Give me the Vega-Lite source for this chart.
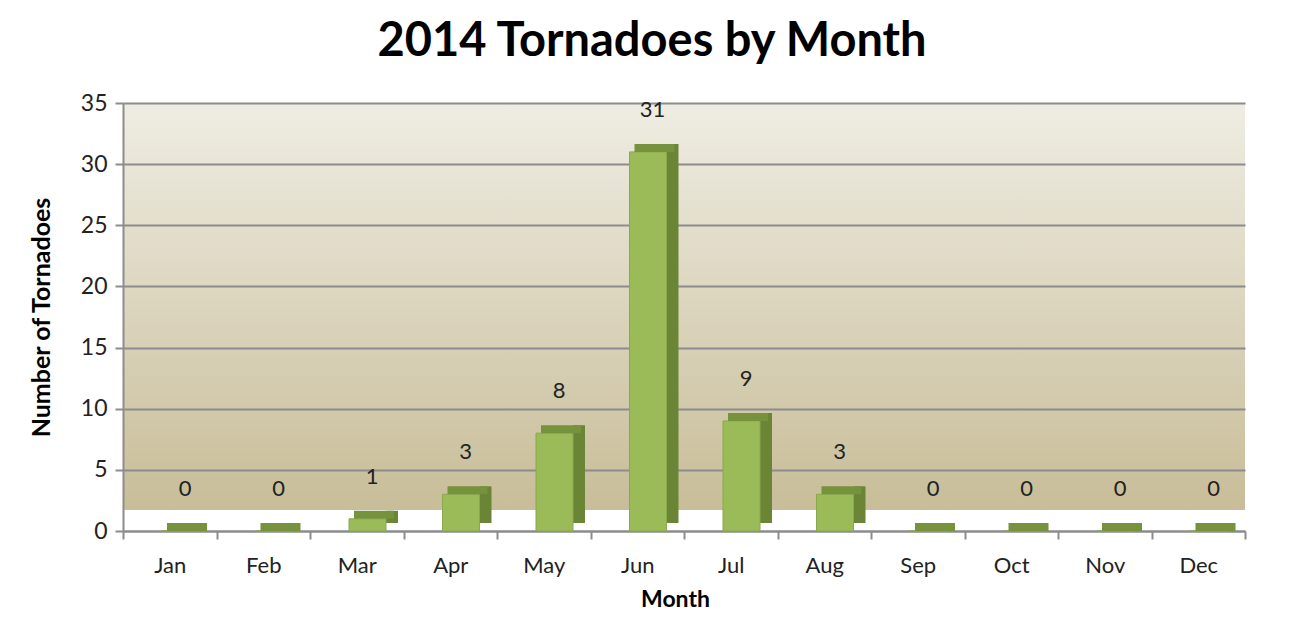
{
  "$schema": "https://vega.github.io/schema/vega-lite/v6.json",
  "autosize": "none",
  "width": 1122,
  "height": 428,
  "padding": {"left": 123, "top": 103, "right": 67, "bottom": 90},
  "background": "white",
  "title": {
    "text": "2014 Tornadoes by Month",
    "font": "Lato",
    "fontSize": 47,
    "fontWeight": "bold",
    "color": "#000000",
    "anchor": "middle",
    "dx": -32,
    "offset": 26
  },
  "config": {
    "view": {
      "stroke": null,
      "fill": {
        "gradient": "linear",
        "x1": 0, "y1": 0, "x2": 0, "y2": 1,
        "stops": [
          {"offset": 0, "color": "#EFEDE3"},
          {"offset": 0.95, "color": "#C8BD98"},
          {"offset": 0.951, "color": "#FFFFFF"},
          {"offset": 1, "color": "#FFFFFF"}
        ]
      }
    },
    "font": "Lato"
  },
  "data": {
    "values": [
      {"month": "Jan", "count": 0},
      {"month": "Feb", "count": 0},
      {"month": "Mar", "count": 1},
      {"month": "Apr", "count": 3},
      {"month": "May", "count": 8},
      {"month": "Jun", "count": 31},
      {"month": "Jul", "count": 9},
      {"month": "Aug", "count": 3},
      {"month": "Sep", "count": 0},
      {"month": "Oct", "count": 0},
      {"month": "Nov", "count": 0},
      {"month": "Dec", "count": 0}
    ]
  },
  "encoding": {
    "x": {
      "field": "month",
      "type": "nominal",
      "sort": null,
      "scale": {"paddingInner": 0, "paddingOuter": 0},
      "axis": {
        "title": "Month",
        "titleFont": "Lato",
        "titleFontSize": 23,
        "titleFontWeight": "bold",
        "titleColor": "#000000",
        "titlePadding": 12,
        "titleX": 552,
        "labelAngle": 0,
        "labelFont": "Lato",
        "labelFontSize": 22,
        "labelColor": "#222222",
        "labelPadding": 16,
        "tickBand": "extent",
        "tickSize": 8,
        "tickWidth": 2,
        "tickColor": "#8C8C8C",
        "domainColor": "#8C8C8C",
        "domainWidth": 2,
        "grid": false
      }
    }
  },
  "layer": [
    {
      "mark": {"type": "bar", "width": 12, "color": "#6A8535"},
      "encoding": {
        "y": {
          "field": "count",
          "type": "quantitative",
          "scale": {"domain": [0, 35]},
          "axis": {
            "title": "Number of Tornadoes",
            "titleFont": "Lato",
            "titleFontSize": 25,
            "titleFontWeight": "bold",
            "titleColor": "#000000",
            "titlePadding": 26,
            "values": [0, 5, 10, 15, 20, 25, 30, 35],
            "labelFont": "Lato",
            "labelFontSize": 23,
            "labelColor": "#222222",
            "labelPadding": 8,
            "tickSize": 8,
            "tickWidth": 2,
            "tickColor": "#8C8C8C",
            "domainColor": "#8C8C8C",
            "domainWidth": 2,
            "grid": true,
            "gridColor": "#8C8C8C",
            "gridWidth": 2
          }
        },
        "xOffset": {"value": 82},
        "yOffset": {"value": -8}
      }
    },
    {
      "mark": {"type": "bar", "width": 37, "color": "#9BBB59", "stroke": "#8AA84E", "strokeWidth": 1},
      "encoding": {
        "y": {"field": "count", "type": "quantitative"},
        "xOffset": {"value": 57.5}
      }
    },
    {
      "mark": {"type": "tick", "thickness": 8, "size": 40, "color": "#76923C", "opacity": 1},
      "encoding": {
        "y": {"field": "count", "type": "quantitative"},
        "xOffset": {"value": 64},
        "yOffset": {"value": -4}
      }
    },
    {
      "mark": {"type": "text", "font": "Lato", "fontSize": 22, "color": "#222222", "baseline": "bottom", "dy": -30},
      "encoding": {
        "y": {"field": "count", "type": "quantitative"},
        "text": {"field": "count", "type": "quantitative"},
        "xOffset": {"value": 62}
      }
    }
  ]
}
